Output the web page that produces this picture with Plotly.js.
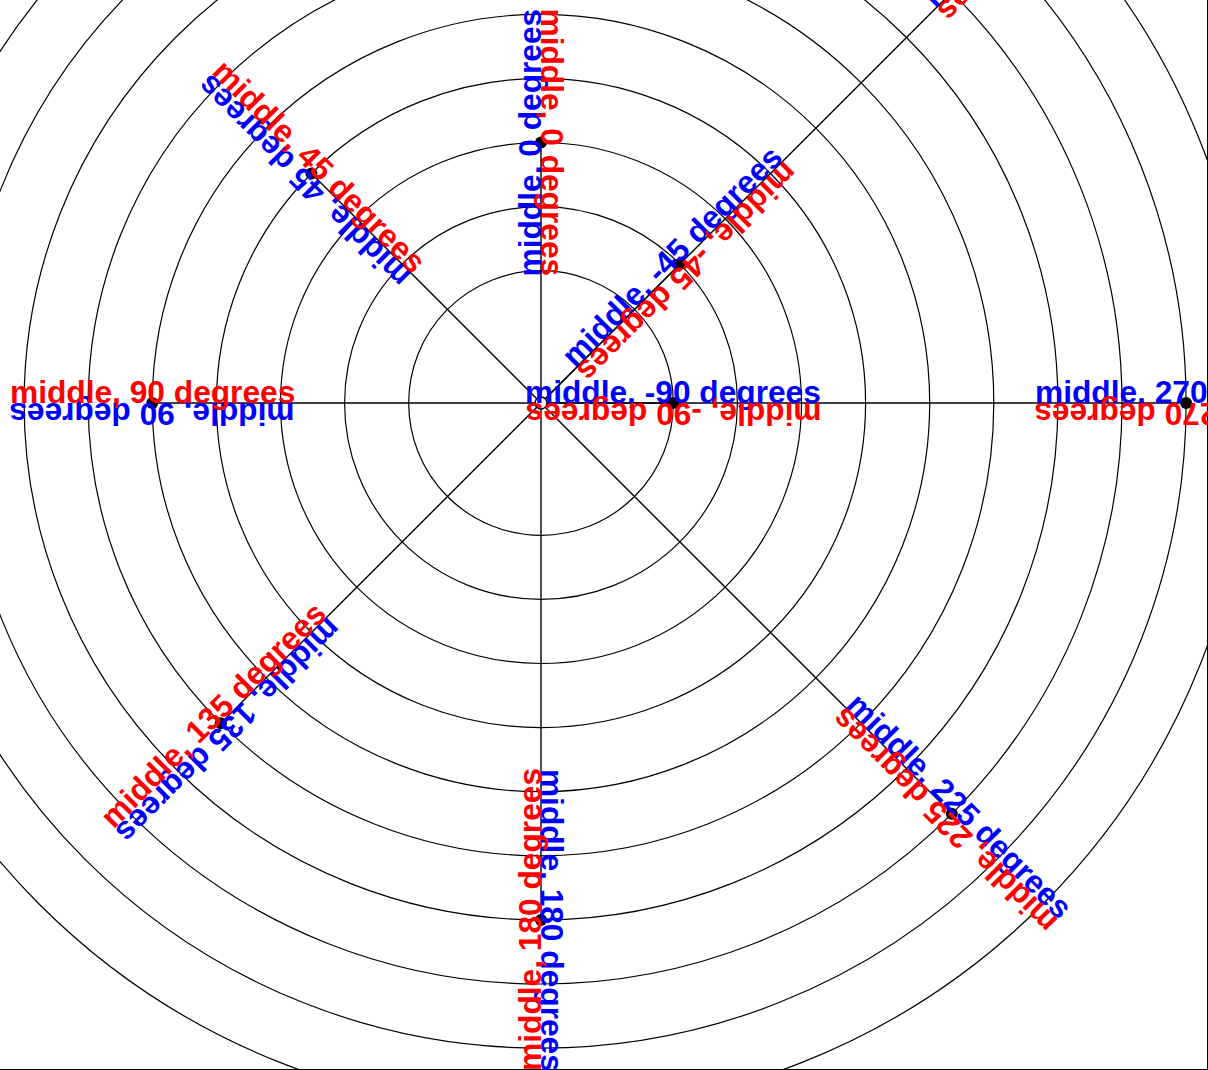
<!DOCTYPE html>
<html>
<head>
<meta charset="utf-8">
<script src="https://cdn.plot.ly/plotly-3.0.1.min.js"></script>
<style>
html, body { margin:0; padding:0; overflow:hidden; background:#ffffff; width:1208px; height:1070px; }
#chart { position:absolute; left:0; top:-130px; width:1208px; height:1200px; }
</style>
</head>
<body>
<div id="chart"></div>
<script>
// ---- data ----
const angles = [-90, -45, 0, 45, 90, 135, 180, 225, 270, 315];   // theta, degrees (0 at top, counter-clockwise)
const radii  = [0, 1, 2, 3, 4, 5, 6, 7, 8, 9];                      // r value of each point
const redLabels = [
  'middle, -90 degrees', 'middle, -45 degrees', 'middle, 0 degrees', 'middle, 45 degrees',
  'middle, 90 degrees', 'middle, 135 degrees', 'middle, 180 degrees', 'middle, 225 degrees',
  'middle, 270 degrees', 'middle, 315 degrees'
];
const blueLabels = redLabels.slice();
const gridRadii = [0, 1, 2, 3, 4, 5, 6, 7, 8, 9];                   // r grid circles
const rOrigin = -2.064;                                              // r value at the centre

// ---- helpers ----
function toXY(theta, r) {
  const R = r - rOrigin;
  const t = theta * Math.PI / 180;
  return [-R * Math.sin(t), R * Math.cos(t)];
}
function norm(a) {
  while (a > 180) a -= 360;
  while (a <= -180) a += 360;
  return a;
}

const px = [], py = [];
angles.forEach((th, i) => { const p = toXY(th, radii[i]); px.push(p[0]); py.push(p[1]); });

// lines from centre to each point
const lx = [], ly = [];
px.forEach((x, i) => { lx.push(0, x, null); ly.push(0, py[i], null); });

const centre = toXY(0, rOrigin);

const traces = [
  { type:'scatter', mode:'lines', x:lx, y:ly, line:{color:'#000', width:1.4}, hoverinfo:'skip', showlegend:false },
  { type:'scatter', mode:'markers', x:px, y:py, marker:{color:'#000', size:12}, hoverinfo:'skip', showlegend:false },
  { type:'scatter', mode:'markers', x:[centre[0]], y:[centre[1]],
    marker:{color:'#fff', size:12, line:{color:'#000', width:1.5}}, hoverinfo:'skip', showlegend:false }
];

const shapes = gridRadii.map(r => {
  const R = r - rOrigin;
  return { type:'circle', xref:'x', yref:'y', x0:-R, x1:R, y0:-R, y1:R,
           line:{color:'#000', width:1.2}, layer:'below' };
});

const fontBase = { family:'Liberation Sans, Arial, Helvetica, sans-serif', size:31.7, weight:'bold' };
const baseShift = 11;

function makeAnn(x, y, text, angle, color) {
  const a = angle * Math.PI / 180;
  return {
    x:x, y:y, xref:'x', yref:'y', text:text, showarrow:false,
    textangle:angle, xanchor:'center', yanchor:'middle',
    xshift: baseShift * Math.sin(a), yshift: baseShift * Math.cos(a),
    font: Object.assign({}, fontBase, {color:color}),
    borderpad:1
  };
}

const annotations = [];
angles.forEach((th, i) => {
  const red = norm(90 - th);
  const blue = norm(red + 180);
  annotations.push(makeAnn(px[i], py[i], blueLabels[i], blue, '#0000ff'));
});
angles.forEach((th, i) => {
  const red = norm(90 - th);
  annotations.push(makeAnn(px[i], py[i], redLabels[i], red, '#ff0000'));
});

const layout = {
  width:1208, height:1200,
  margin:{l:0, r:1, t:0, b:1, pad:0},
  paper_bgcolor:'#fff', plot_bgcolor:'#fff',
  showlegend:false,
  xaxis:{ range:[-8.440, 10.390], showgrid:false, zeroline:false, showticklabels:false, ticks:'',
          showline:true, linecolor:'#000', linewidth:1.3, side:'bottom', mirror:false, fixedrange:true },
  yaxis:{ range:[-10.390, 8.315], showgrid:false, zeroline:false, showticklabels:false, ticks:'',
          showline:true, linecolor:'#000', linewidth:1.3, side:'right', mirror:false, fixedrange:true },
  shapes:shapes,
  annotations:annotations
};

Plotly.newPlot('chart', traces, layout, {staticPlot:true, displayModeBar:false});
</script>
</body>
</html>
